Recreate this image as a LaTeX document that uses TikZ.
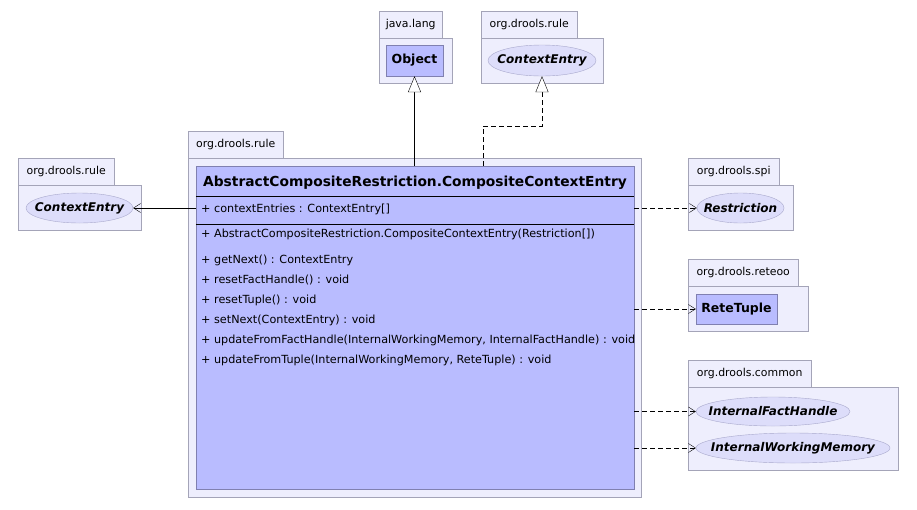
\documentclass[tikz,border=0pt]{standalone}
\usepackage{fontspec}
\setmainfont{DejaVu Sans}
\usepackage{xcolor}
\usetikzlibrary{positioning,arrows.meta,shapes.geometric}

\definecolor{pkgfill}{RGB}{238,238,253}
\definecolor{pkgline}{RGB}{164,164,184}
\definecolor{clsfill}{RGB}{185,188,255}
\definecolor{clsline}{RGB}{128,128,176}
\definecolor{ifcfill}{RGB}{221,221,250}
\definecolor{ifcline}{RGB}{168,168,204}

\tikzset{
  pkgtab/.style={draw=pkgline, fill=pkgfill, anchor=north west, inner sep=0pt,
    minimum height=27pt, font=\fontsize{10.9}{12}\selectfont},
  pkgbody/.style={draw=pkgline, fill=pkgfill, anchor=north west, inner sep=0pt},
  clsbox/.style={draw=clsline, fill=clsfill, inner sep=0pt, font=\fontsize{12.5}{14}\selectfont\bfseries},
  ifcbox/.style={ellipse, draw=ifcline, fill=ifcfill, inner sep=0pt,
    label={[inner sep=0pt, font=\fontsize{12}{14}\selectfont\bfseries\itshape]center:#1}},
  member/.style={anchor=west, inner sep=0pt, font=\fontsize{11.2}{13}\selectfont},
  dep/.style={dashed, dash pattern=on 5pt off 3pt, -{Straight Barb[length=7pt,width=9pt]}},
  gen/.style={-{Triangle[open,length=16pt,width=13pt,fill=white]}}
}

% name, label, x, y, tab width, body width, body height
\newcommand{\umlpkg}[7]{%
  \node[pkgtab, minimum width=#5pt] (#1tab) at (#3,#4) {#2};
  \node[pkgbody, minimum width=#6pt, minimum height=#7pt] (#1) at (#1tab.south west) {};
}

\begin{document}
\begin{tikzpicture}[x=1pt,y=-1pt]
  \useasboundingbox (0,0) rectangle (917,509);

  \umlpkg{jlang}{java.lang}{379}{11}{63}{73}{45}
  \umlpkg{ruletop}{org.drools.rule}{481}{11}{96}{122}{45}
  \umlpkg{rulemain}{org.drools.rule}{188}{131}{95}{453}{339}
  \umlpkg{ruleleft}{org.drools.rule}{18}{158}{96}{123}{45}
  \umlpkg{spi}{org.drools.spi}{688}{158}{91}{105}{45}
  \umlpkg{reteoo}{org.drools.reteoo}{688}{259}{110}{120}{45}
  \umlpkg{common}{org.drools.common}{688}{360}{123}{210}{83}

  \node[clsbox, minimum width=57pt, minimum height=31pt] (object) at (414.5,60.5) {Object};
  \node[ifcbox=ContextEntry, minimum width=108pt, minimum height=31pt] (ctxtop) at (542,60.5) {};
  \node[ifcbox=ContextEntry, minimum width=107pt, minimum height=30pt] (ctxleft) at (79.5,208) {};
  \node[ifcbox=Restriction, minimum width=87pt, minimum height=30pt] (restr) at (740.5,208) {};
  \node[clsbox, minimum width=81pt, minimum height=30pt] (tuple) at (736.5,309) {ReteTuple};
  \node[ifcbox=InternalFactHandle, minimum width=154pt, minimum height=29pt] (facth) at (773,411.5) {};
  \node[ifcbox=InternalWorkingMemory, minimum width=194pt, minimum height=30pt] (wmem) at (793,448) {};

  \node[clsbox, minimum width=438pt, minimum height=323pt] (entry) at (415,327.5) {};
  \node[font=\fontsize{13.8}{16}\selectfont\bfseries, inner sep=0pt] (title) at (415,183)
    {AbstractCompositeRestriction.CompositeContextEntry};
  \draw (entry.west |- 0,196) -- (entry.east |- 0,196);
  \draw (entry.west |- 0,224) -- (entry.east |- 0,224);
  \node[member] (attr) at (201,209) {+ contextEntries : ContextEntry[]};
  \node[member] (ctor) at (201,234) {+ AbstractCompositeRestriction.CompositeContextEntry(Restriction[])};
  \node[member] (m1) at (201,260) {+ getNext() : ContextEntry};
  \node[member] (m2) at (201,280) {+ resetFactHandle() : void};
  \node[member] (m3) at (201,300) {+ resetTuple() : void};
  \node[member] (m4) at (201,320) {+ setNext(ContextEntry) : void};
  \node[member] (m5) at (201,340) {+ updateFromFactHandle(InternalWorkingMemory, InternalFactHandle) : void};
  \node[member] (m6) at (201,360) {+ updateFromTuple(InternalWorkingMemory, ReteTuple) : void};

  \draw[gen] (entry.north -| object) -- (object.south);
  \coordinate (bend) at (483,126);
  \draw[gen, dashed, dash pattern=on 5pt off 3pt] (entry.north -| bend) -- (bend) -| (ctxtop.south);
  \draw[-{Straight Barb[length=7pt,width=9pt]}] (entry.west |- ctxleft.east) -- (ctxleft.east);
  \draw[dep] (entry.east |- restr.west) -- (restr.west);
  \draw[dep] (entry.east |- tuple.west) -- (tuple.west);
  \draw[dep] (entry.east |- facth.west) -- (facth.west);
  \draw[dep] (entry.east |- wmem.west) -- (wmem.west);
\end{tikzpicture}
\end{document}
